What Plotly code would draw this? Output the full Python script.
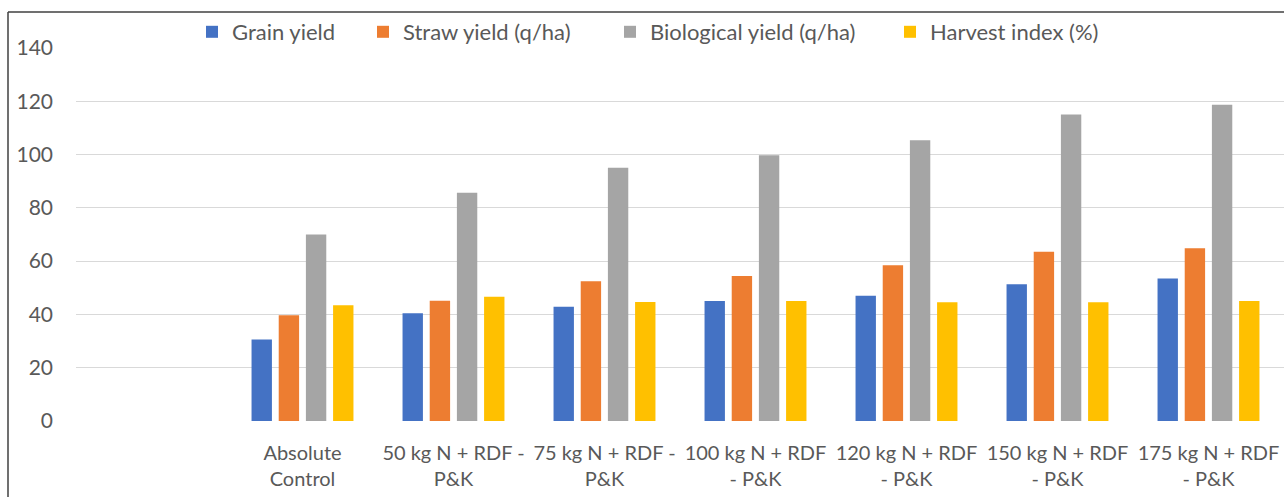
import plotly.graph_objects as go

categories = [
    "Absolute<br>Control",
    "50 kg N + RDF -<br>P&K",
    "75 kg N + RDF -<br>P&K",
    "100 kg N + RDF<br>- P&K",
    "120 kg N + RDF<br>- P&K",
    "150 kg N + RDF<br>- P&K",
    "175 kg N + RDF<br>- P&K",
]
grain_yield = [30.6, 40.4, 42.9, 45.0, 47.0, 51.3, 53.5]
straw_yield = [39.7, 45.1, 52.5, 54.4, 58.5, 63.5, 64.8]
biological_yield = [70.0, 85.7, 95.1, 99.7, 105.4, 115.0, 118.7]
harvest_index = [43.4, 46.6, 44.7, 45.0, 44.6, 44.6, 45.0]

series_names = ["Grain yield", "Straw yield (q/ha)", "Biological yield (q/ha)", "Harvest index (%)"]
series_values = [grain_yield, straw_yield, biological_yield, harvest_index]
series_colors = ["#4472C4", "#ED7D31", "#A5A5A5", "#FFC000"]
y_ticks = [0, 20, 40, 60, 80, 100, 120, 140]

W, H = 1284, 497
ML, MR, MT, MB = 76, 0, 48, 76
FONT = "Lato"
TXT = "#595959"
BORDER = "#404040"

# left edge of each legend entry's text (px)
legend_text_x = [232, 403, 650, 930]
legend_ids = ["legend", "legend2", "legend3", "legend4"]

fig = go.Figure()
for name, vals, col, lid in zip(series_names, series_values, series_colors, legend_ids):
    fig.add_trace(go.Bar(x=categories, y=vals, name=name, legend=lid,
                         marker=dict(color=col, line=dict(width=0))))

legend_layout = {}
for lid, tx in zip(legend_ids, legend_text_x):
    legend_layout[lid] = dict(
        orientation="h",
        xref="container", yref="container",
        x=(tx - 40) / W, y=1 - 32 / H, xanchor="left", yanchor="middle",
        font=dict(family=FONT, size=22, color=TXT),
        bgcolor="rgba(0,0,0,0)", borderwidth=0,
    )

PW = W - ML - MR
PH = H - MT - MB
border_x = (8 - ML) / PW
border_top = (H - MB - 12) / PH
border_bottom = -MB / PH

fig.update_layout(
    width=W, height=H,
    margin=dict(l=ML, r=MR, t=MT, b=MB, pad=0, autoexpand=False),
    paper_bgcolor="white", plot_bgcolor="white",
    barmode="group", bargap=0.28, bargroupgap=0.25,
    font=dict(family=FONT, size=21, color=TXT),
    showlegend=True,
    xaxis=dict(
        type="category",
        range=[-1.5, 6.5],
        automargin=False,
        tickangle=0,
        showgrid=False, zeroline=False, showline=False, ticks="",
        tickfont=dict(family=FONT, size=20, color=TXT),
        ticklabelstandoff=18,
        fixedrange=True,
    ),
    yaxis=dict(
        range=[0, 140],
        automargin=False,
        tickvals=y_ticks,
        showgrid=True, gridcolor="#D9D9D9", gridwidth=1,
        zeroline=False, showline=False, ticks="",
        tickfont=dict(family=FONT, size=21, color=TXT),
        ticklabelstandoff=22,
        fixedrange=True,
    ),
    shapes=[
        dict(type="line", xref="paper", yref="paper",
             x0=border_x, x1=border_x, y0=border_bottom, y1=border_top,
             line=dict(color=BORDER, width=1.5), layer="above"),
        dict(type="line", xref="paper", yref="paper",
             x0=border_x, x1=1.0, y0=border_top, y1=border_top,
             line=dict(color=BORDER, width=1.5), layer="above"),
    ],
    **legend_layout,
)

fig.write_html("out.html", include_plotlyjs=True, config={"displayModeBar": False})
